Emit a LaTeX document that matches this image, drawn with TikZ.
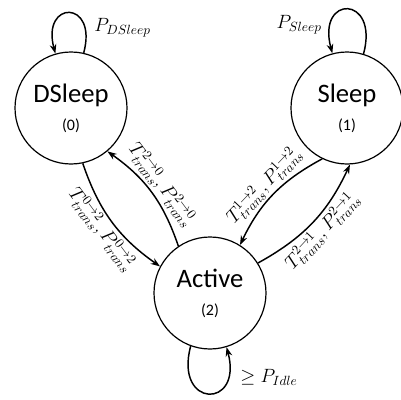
\documentclass[tikz,border=0pt]{standalone}
\usepackage{fontspec}
\setmainfont{Carlito}
\usetikzlibrary{arrows.meta}

\tikzset{
	state/.style={circle, draw, line width=0.9pt, minimum size=84pt, inner sep=0pt, align=center, font=\fontsize{20}{22}\selectfont},
	trans/.style={-{Stealth[length=7pt,width=5pt]}, line width=1.1pt},
	edgelabel/.style={font=\fontsize{14.5}{16}\selectfont, sloped, inner sep=1.5pt},
	looplabel/.style={font=\fontsize{14}{16}\selectfont, inner sep=0pt}
}
\newcommand{\statenum}[1]{\\[-1pt]{\fontsize{12}{14}\selectfont (#1)}}

\begin{document}
\begin{tikzpicture}[x=0.75pt, y=-0.75pt]
			%%%%% START %%%%%
			\useasboundingbox (0, 0) rectangle (401, 400);
			
			\node[state] (dsleep) at (71, 108) {DSleep\statenum{0}};
			\node[state] (sleep) at (347, 108) {Sleep\statenum{1}};
			\node[state] (active) at (210, 293) {Active\statenum{2}};
			
			\draw[trans] (dsleep.77) to[out=75, in=105, looseness=5] (dsleep.106);
			\draw[trans] (sleep.73) to[out=75, in=105, looseness=5] (sleep.105);
			\draw[trans] (active.250) to[out=-105, in=-75, looseness=4.6] (active.287);
			
			\node[looplabel, anchor=west] (pdsleep) at (94, 28) {$P_{DSleep}$};
			\node[looplabel, anchor=east] (psleep) at (322, 25) {$P_{Sleep}$};
			\node[looplabel, anchor=west] (pidle) at (240, 377) {$\geq P_{Idle}$};
			
			\draw[trans] (dsleep.-78) to[bend right=18] node[edgelabel, below] {$T^{0\to2}_{trans}, P^{0\to2}_{trans}$} (active.152);
			\draw[trans] (active.124) to[bend right=18] node[edgelabel, above] {$T^{2\to0}_{trans}, P^{2\to0}_{trans}$} (dsleep.-50);
			\draw[trans] (sleep.-116) to[bend right=18] node[edgelabel, above] {$T^{1\to2}_{trans}, P^{1\to2}_{trans}$} (active.58);
			\draw[trans] (active.32) to[bend right=18] node[edgelabel, below] {$T^{2\to1}_{trans}, P^{2\to1}_{trans}$} (sleep.-87);
			
			%%%%% END %%%%%
\end{tikzpicture}
\end{document}
